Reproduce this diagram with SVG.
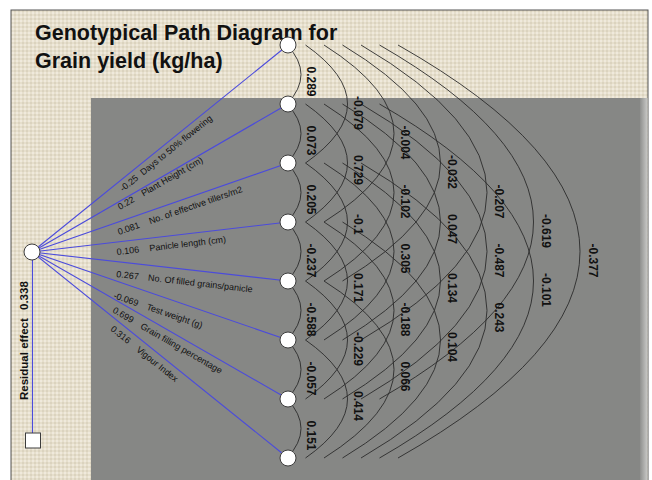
<svg xmlns="http://www.w3.org/2000/svg" width="652" height="480" viewBox="0 0 652 480">
<style>
.arc{fill:none;stroke:#2b2b2b;stroke-width:0.9}
.blue{fill:none;stroke:#4b4bdc;stroke-width:1.1}
.node{fill:#ffffff;stroke:#3c3c3c;stroke-width:1}
.num{font-family:"Liberation Sans",Arial,sans-serif;font-size:12px;font-weight:bold;fill:#111}
.lab{font-family:"Liberation Sans",Arial,sans-serif;font-size:9px;fill:#111}
.title{font-family:"Liberation Sans",Arial,sans-serif;font-size:21.5px;font-weight:bold;fill:#111}
.res{font-family:"Liberation Sans",Arial,sans-serif;font-size:11.5px;font-weight:bold;fill:#111}
</style>
<defs>
<pattern id="linen" width="4" height="4" patternUnits="userSpaceOnUse">
<rect width="4" height="4" fill="#e6dfcc"/>
<rect width="2" height="2" fill="#efe9dc"/>
<rect x="2" y="2" width="2" height="2" fill="#dbd3bf"/>
</pattern>
<linearGradient id="shade" x1="0" y1="0" x2="1" y2="0">
<stop offset="0" stop-color="#8f908e"/>
<stop offset="1" stop-color="#c9c9c7"/>
</linearGradient>
</defs>
<rect width="652" height="480" fill="#ffffff"/>
<rect x="11" y="10" width="637" height="475" fill="url(#linen)" stroke="#555" stroke-width="1"/>
<rect x="91" y="98" width="549" height="382" fill="#868785"/>
<rect x="640" y="98" width="7.5" height="382" fill="url(#shade)"/>

<g id="title">
<text class="title" x="35" y="40">Genotypical Path Diagram for</text>
<text class="title" x="35" y="68">Grain yield (kg/ha)</text>
</g>

<g id="connectors">
<line class="blue" x1="32" y1="252" x2="288" y2="45"/>
<line class="blue" x1="32" y1="252" x2="288" y2="104"/>
<line class="blue" x1="32" y1="252" x2="288" y2="163"/>
<line class="blue" x1="32" y1="252" x2="288" y2="222"/>
<line class="blue" x1="32" y1="252" x2="288" y2="281"/>
<line class="blue" x1="32" y1="252" x2="288" y2="340"/>
<line class="blue" x1="32" y1="252" x2="288" y2="399"/>
<line class="blue" x1="32" y1="252" x2="288" y2="458"/>
<line class="blue" x1="32.5" y1="260" x2="32.5" y2="433"/>
<!-- span 1 -->
<path class="arc" d="M287,45 Q315,74.5 287,104"/>
<path class="arc" d="M287,104 Q315,133.5 287,163"/>
<path class="arc" d="M287,163 Q315,192.5 287,222"/>
<path class="arc" d="M287,222 Q315,251.5 287,281"/>
<path class="arc" d="M287,281 Q315,310.5 287,340"/>
<path class="arc" d="M287,340 Q315,369.5 287,399"/>
<path class="arc" d="M287,399 Q315,428.5 287,458"/>
<!-- span 2 -->
<path class="arc" d="M305.5,45 Q389.5,104 305.5,163"/>
<path class="arc" d="M305.5,104 Q389.5,163 305.5,222"/>
<path class="arc" d="M305.5,163 Q389.5,222 305.5,281"/>
<path class="arc" d="M305.5,222 Q389.5,281 305.5,340"/>
<path class="arc" d="M305.5,281 Q389.5,340 305.5,399"/>
<path class="arc" d="M305.5,340 Q389.5,399 305.5,458"/>
<!-- span 3 -->
<path class="arc" d="M324,45 Q464,133.5 324,222"/>
<path class="arc" d="M324,104 Q464,192.5 324,281"/>
<path class="arc" d="M324,163 Q464,251.5 324,340"/>
<path class="arc" d="M324,222 Q464,310.5 324,399"/>
<path class="arc" d="M324,281 Q464,369.5 324,458"/>
<!-- span 4 -->
<path class="arc" d="M342.5,45 Q538.5,163 342.5,281"/>
<path class="arc" d="M342.5,104 Q538.5,222 342.5,340"/>
<path class="arc" d="M342.5,163 Q538.5,281 342.5,399"/>
<path class="arc" d="M342.5,222 Q538.5,340 342.5,458"/>
<!-- span 5 -->
<path class="arc" d="M361,45 Q613,192.5 361,340"/>
<path class="arc" d="M361,104 Q613,251.5 361,399"/>
<path class="arc" d="M361,163 Q613,310.5 361,458"/>
<!-- span 6 -->
<path class="arc" d="M379.5,45 Q687.5,222 379.5,399"/>
<path class="arc" d="M379.5,104 Q687.5,281 379.5,458"/>
<!-- span 7 -->
<path class="arc" d="M398,45 Q762,251.5 398,458"/>
</g>

<g id="arc-labels">
<text class="num" transform="translate(306.7,66.5) rotate(90)">0.289</text>
<text class="num" transform="translate(306.7,125.5) rotate(90)">0.073</text>
<text class="num" transform="translate(306.7,184.5) rotate(90)">0.205</text>
<text class="num" transform="translate(306.7,243.5) rotate(90)">-0.237</text>
<text class="num" transform="translate(306.7,302.5) rotate(90)">-0.588</text>
<text class="num" transform="translate(306.7,361.5) rotate(90)">-0.057</text>
<text class="num" transform="translate(306.7,420.5) rotate(90)">0.151</text>

<text class="num" transform="translate(353.7,96) rotate(90)">-0.079</text>
<text class="num" transform="translate(353.7,155) rotate(90)">0.729</text>
<text class="num" transform="translate(353.7,214) rotate(90)">-0.1</text>
<text class="num" transform="translate(353.7,273) rotate(90)">0.171</text>
<text class="num" transform="translate(353.7,332) rotate(90)">-0.229</text>
<text class="num" transform="translate(353.7,391) rotate(90)">0.414</text>

<text class="num" transform="translate(400.7,125.5) rotate(90)">-0.004</text>
<text class="num" transform="translate(400.7,184.5) rotate(90)">-0.102</text>
<text class="num" transform="translate(400.7,243.5) rotate(90)">0.305</text>
<text class="num" transform="translate(400.7,302.5) rotate(90)">-0.188</text>
<text class="num" transform="translate(400.7,361.5) rotate(90)">0.066</text>

<text class="num" transform="translate(447.7,155) rotate(90)">-0.032</text>
<text class="num" transform="translate(447.7,214) rotate(90)">0.047</text>
<text class="num" transform="translate(447.7,273) rotate(90)">0.134</text>
<text class="num" transform="translate(447.7,332) rotate(90)">0.104</text>

<text class="num" transform="translate(494.7,184.5) rotate(90)">-0.207</text>
<text class="num" transform="translate(494.7,243.5) rotate(90)">-0.487</text>
<text class="num" transform="translate(494.7,302.5) rotate(90)">0.243</text>

<text class="num" transform="translate(541.7,214) rotate(90)">-0.619</text>
<text class="num" transform="translate(541.7,273) rotate(90)">-0.101</text>

<text class="num" transform="translate(588.7,243.5) rotate(90)">-0.377</text>
</g>

<g id="path-labels">
<text class="lab" transform="translate(123,192) rotate(-38.96)"><tspan>-0.25</tspan><tspan x="26">Days to 50% flowering</tspan></text>
<text class="lab" transform="translate(120,210) rotate(-30.03)"><tspan>0.22</tspan><tspan x="27">Plant Height (cm)</tspan></text>
<text class="lab" transform="translate(119,235) rotate(-19.17)"><tspan>0.081</tspan><tspan x="33">No. of effective tillers/m2</tspan></text>
<text class="lab" transform="translate(117,255) rotate(-6.68)"><tspan>0.106</tspan><tspan x="33">Panicle length (cm)</tspan></text>
<text class="lab" transform="translate(116,277) rotate(6.46)"><tspan>0.267</tspan><tspan x="32">No. Of filled grains/panicle</tspan></text>
<text class="lab" transform="translate(113,298) rotate(18.97)"><tspan>-0.069</tspan><tspan x="35">Test weight (g)</tspan></text>
<text class="lab" transform="translate(112,312) rotate(29.87)"><tspan>0.699</tspan><tspan x="32">Grain filling percentage</tspan></text>
<text class="lab" transform="translate(110,330) rotate(38.82)"><tspan>0.316</tspan><tspan x="33">Vigour Index</tspan></text>
</g>

<g id="residual-label">
<text class="res" transform="translate(28,400) rotate(-90)"><tspan>Residual effect</tspan><tspan x="90">0.338</tspan></text>
</g>

<g id="node-source"><circle class="node" cx="32" cy="252" r="8"/></g>
<g id="node-residual"><rect class="node" x="25.5" y="433" width="15" height="15"/></g>
<g id="node-1"><circle class="node" cx="288" cy="45" r="8"/></g>
<g id="node-2"><circle class="node" cx="288" cy="104" r="8"/></g>
<g id="node-3"><circle class="node" cx="288" cy="163" r="8"/></g>
<g id="node-4"><circle class="node" cx="288" cy="222" r="8"/></g>
<g id="node-5"><circle class="node" cx="288" cy="281" r="8"/></g>
<g id="node-6"><circle class="node" cx="288" cy="340" r="8"/></g>
<g id="node-7"><circle class="node" cx="288" cy="399" r="8"/></g>
<g id="node-8"><circle class="node" cx="288" cy="458" r="8"/></g>
</svg>
